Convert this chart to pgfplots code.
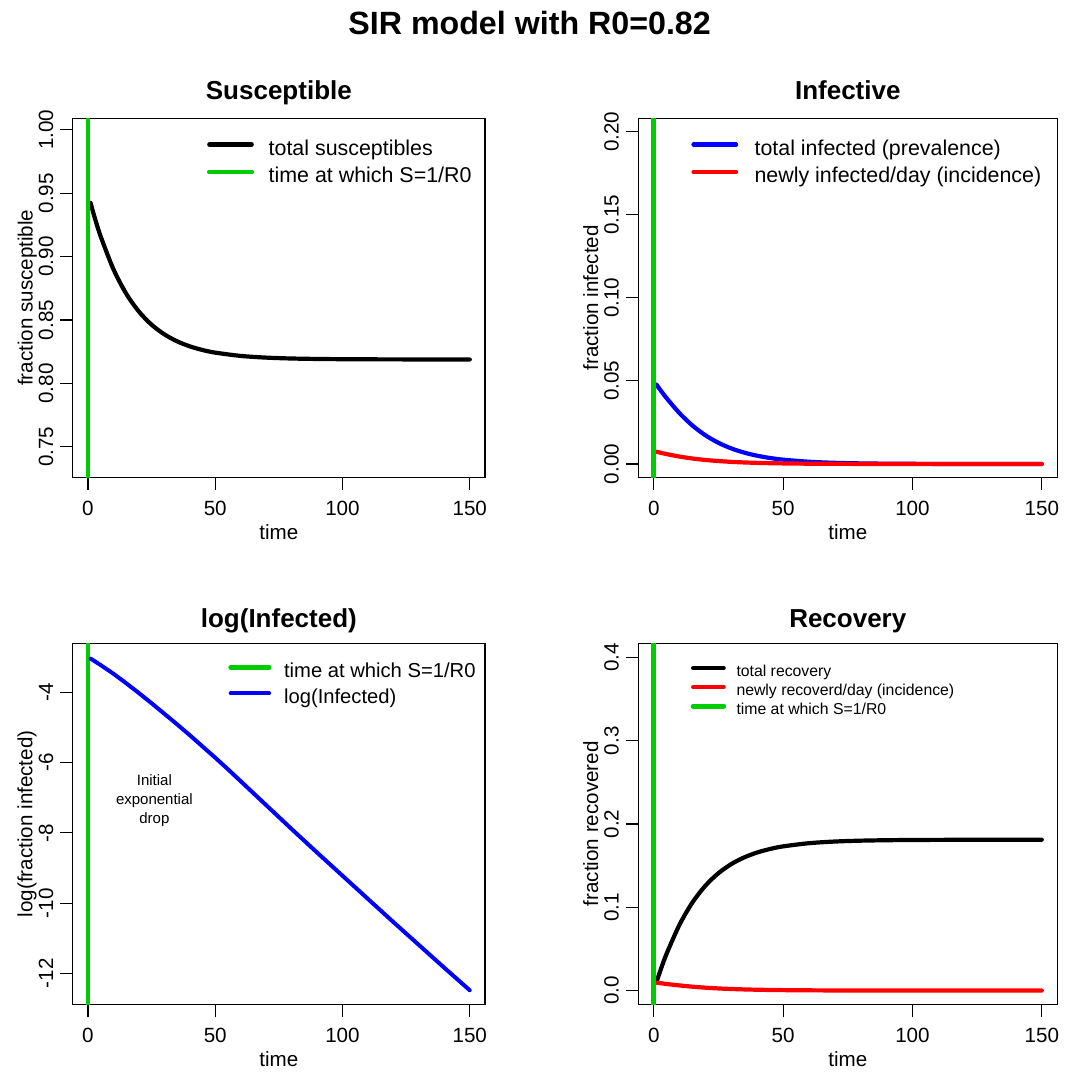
\documentclass[border=0pt]{standalone}
\usepackage{fontspec}
\setmainfont{Liberation Sans}
\usepackage{pgfplots}
\pgfplotsset{compat=1.18}
\definecolor{rgreen}{RGB}{0,205,0}
\definecolor{rblue}{RGB}{0,0,255}
\definecolor{rred}{RGB}{255,0,0}
\newcommand{\axfont}{\fontsize{10.3}{12}\selectfont}
\pgfplotsset{
  rpanel/.style={
    scale only axis,
    xmin=-6, xmax=156,
    xtick={0,50,100,150}, xticklabels={0,50,100,150},
    axis line style={line width=0.6pt},
    every tick/.style={line width=0.6pt, black},
    tick align=outside, major tick length=6.3pt,
    xtick pos=left, ytick pos=left,
    xticklabel style={font=\axfont, anchor=north, inner sep=0pt},
    yticklabel style={font=\axfont, rotate=90, anchor=base, inner sep=0pt},
    xticklabel shift=5.5pt,
    yticklabel shift=3.5pt,
    xlabel=time,
    xlabel style={font=\axfont, at={([yshift=-31.3pt]axis description cs:0.5,0)}, anchor=base, inner sep=0pt},
    ylabel style={font=\axfont, at={([xshift=-20.1pt]axis description cs:0,0.5)}, anchor=base, inner sep=0pt},
    title style={font=\bfseries\fontsize{13}{15}\selectfont, anchor=base, inner sep=0pt, yshift=-6pt},
    legend cell align=left,
    clip=true,
    every axis plot/.append style={line cap=round, line join=round},
  },
  toptitle/.style={title style={at={([yshift=9.2pt]axis description cs:0.5,1)}}},
  bottitle/.style={title style={at={([yshift=7.8pt]axis description cs:0.5,1)}}},
}
\begin{document}
\begin{tikzpicture}
\path (0,0) rectangle (536.5pt,536.5pt);
\node[font=\bfseries\fontsize{16.1}{18}\selectfont, anchor=base] at (264.8pt,519pt) {SIR model with R0=0.82};

% Panel 1: Susceptible
\begin{axis}[rpanel, toptitle,
  at={(36.35pt,297.85pt)}, anchor=south west, width=206.15pt, height=179.5pt,
  ymin=0.726, ymax=1.009,
  ytick={0.75,0.80,0.85,0.90,0.95,1.00},
  yticklabels={0.75,0.80,0.85,0.90,0.95,1.00},
  title={Susceptible}, ylabel={fraction susceptible},
  legend style={at={(axis description cs:0,1)}, anchor=north west, xshift=66.9pt, yshift=-10.75pt,
    draw=none, fill=none, inner sep=0pt, row sep=3.9pt, column sep=7.3pt,
    font=\fontsize{10.7}{12}\selectfont,
    nodes={inner sep=0pt, text height=7.6pt, text depth=2.2pt}},
  legend image code/.code={\draw[#1] (0pt,2.7pt) -- (21.2pt,2.7pt);},
]
\addplot[black, line width=2.1pt, smooth] coordinates {
(1,0.942411)(2,0.935204)(3,0.928363)(5,0.915848)(10,0.890051)(15,0.870836)(20,0.856662)(25,0.846279)(30,0.838707)(35,0.833211)(40,0.829230)(45,0.826349)(50,0.824269)(60,0.821685)(70,0.820342)(80,0.819645)(90,0.819283)(100,0.819095)(110,0.818998)(120,0.818948)(130,0.818920)(140,0.818905)(150,0.818900)};
\addlegendentry{total susceptibles}
\addplot[rgreen, line width=2.4pt] coordinates {(0,0.5)(0,1.2)};
\addlegendentry{time at which S=1/R0}
\end{axis}

% Panel 2: Infective
\begin{axis}[rpanel, toptitle,
  at={(319.15pt,297.85pt)}, anchor=south west, width=209.5pt, height=179.5pt,
  ymin=-0.008, ymax=0.208,
  ytick={0,0.05,0.10,0.15,0.20},
  yticklabels={0.00,0.05,0.10,0.15,0.20},
  title={Infective}, ylabel={fraction infected},
  legend style={at={(axis description cs:0,1)}, anchor=north west, xshift=26.35pt, yshift=-10.75pt,
    draw=none, fill=none, inner sep=0pt, row sep=3.9pt, column sep=8.2pt,
    font=\fontsize{10.7}{12}\selectfont,
    nodes={inner sep=0pt, text height=7.6pt, text depth=2.2pt}},
  legend image code/.code={\draw[#1] (0pt,2.7pt) -- (21.3pt,2.7pt);},
]
\addplot[rblue, line width=2.1pt, smooth] coordinates {
(1,0.047809)(2,0.045652)(3,0.043541)(5,0.039505)(10,0.030458)(15,0.023055)(20,0.017217)(25,0.012730)(30,0.009344)(35,0.006821)(40,0.004960)(45,0.003597)(50,0.002604)(60,0.001358)(70,0.000707)(80,0.000367)(90,0.000191)(100,0.000099)(110,0.000051)(120,0.000027)(130,0.000014)(140,0.000007)(150,0.000004)};
\addlegendentry{total infected (prevalence)}
\addplot[rred, line width=2.1pt, smooth] coordinates {
(1,0.007389)(2,0.007002)(3,0.006629)(5,0.005934)(10,0.004446)(15,0.003293)(20,0.002419)(25,0.001767)(30,0.001285)(35,0.000932)(40,0.000675)(45,0.000488)(50,0.000352)(60,0.000183)(70,0.000095)(80,0.000049)(90,0.000026)(100,0.000013)(120,0.000004)(150,0.000001)};
\addlegendentry{newly infected/day (incidence)}
\addplot[rgreen, line width=2.4pt, forget plot] coordinates {(0,-0.1)(0,0.3)};
\end{axis}

% Panel 3: log(Infected)
\begin{axis}[rpanel, bottitle,
  at={(36.35pt,34.35pt)}, anchor=south west, width=206.15pt, height=180.5pt,
  ymin=-12.88, ymax=-2.604,
  ytick={-12,-10,-8,-6,-4},
  yticklabels={-12,-10,-8,-6,-4},
  title={log(Infected)}, ylabel={log(fraction infected)},
  legend style={at={(axis description cs:0,1)}, anchor=north west, xshift=77.6pt, yshift=-9.8pt,
    draw=none, fill=none, inner sep=0pt, row sep=3.6pt, column sep=6.3pt,
    font=\fontsize{10.1}{12}\selectfont,
    nodes={inner sep=0pt, text height=7.2pt, text depth=2.2pt}},
  legend image code/.code={\draw[#1] (0pt,2.6pt) -- (19.2pt,2.6pt);},
]
\addplot[rgreen, line width=2.4pt] coordinates {(0,-20)(0,0)};
\addlegendentry{time at which S=1/R0}
\addplot[rblue, line width=2.0pt] coordinates {
(1,-3.04)(2,-3.085)(3,-3.13)(5,-3.225)(10,-3.47)(15,-3.74)(20,-4.02)(25,-4.31)(30,-4.61)(35,-4.91)(40,-5.22)(45,-5.54)(50,-5.86)(55,-6.19)(60,-6.53)(70,-7.21)(80,-7.89)(90,-8.56)(100,-9.22)(110,-9.88)(120,-10.54)(130,-11.19)(140,-11.84)(150,-12.48)};
\addlegendentry{log(Infected)}
\node[font=\fontsize{7.5}{9.5}\selectfont, align=center] at (axis cs:26.1,-7.09) {Initial\\exponential\\drop};
\end{axis}

% Panel 4: Recovery
\begin{axis}[rpanel, bottitle,
  at={(319.15pt,34.35pt)}, anchor=south west, width=209.5pt, height=180.5pt,
  ymin=-0.0165, ymax=0.417,
  ytick={0,0.1,0.2,0.3,0.4},
  yticklabels={0.0,0.1,0.2,0.3,0.4},
  title={Recovery}, ylabel={fraction recovered},
  legend style={at={(axis description cs:0,1)}, anchor=north west, xshift=26pt, yshift=-10.65pt,
    draw=none, fill=none, inner sep=0pt, row sep=2.3pt, column sep=5.2pt,
    font=\fontsize{7.9}{9}\selectfont,
    nodes={inner sep=0pt, text height=5.6pt, text depth=1.6pt}},
  legend image code/.code={\draw[#1] (0pt,2pt) -- (15.3pt,2pt);},
]
\addplot[black, line width=2.1pt, smooth] coordinates {
(1,0.009782)(2,0.019144)(3,0.028096)(5,0.044647)(10,0.079491)(15,0.106109)(20,0.126121)(25,0.140991)(30,0.151949)(35,0.159968)(40,0.165810)(45,0.170054)(50,0.173127)(60,0.176957)(70,0.178951)(80,0.179988)(90,0.180526)(100,0.180806)(110,0.180951)(120,0.181026)(130,0.181065)(140,0.181085)(150,0.181096)};
\addlegendentry{total recovery}
\addplot[rred, line width=2.1pt, smooth] coordinates {
(1,0.009562)(2,0.009130)(3,0.008708)(5,0.007901)(10,0.006092)(15,0.004611)(20,0.003443)(25,0.002546)(30,0.001869)(35,0.001364)(40,0.000992)(45,0.000719)(50,0.000521)(60,0.000272)(70,0.000141)(80,0.000073)(90,0.000038)(100,0.000020)(120,0.000005)(150,0.000001)};
\addlegendentry{newly recoverd/day (incidence)}
\addplot[rgreen, line width=2.4pt] coordinates {(0,-0.1)(0,0.6)};
\addlegendentry{time at which S=1/R0}
\end{axis}
\end{tikzpicture}
\end{document}
